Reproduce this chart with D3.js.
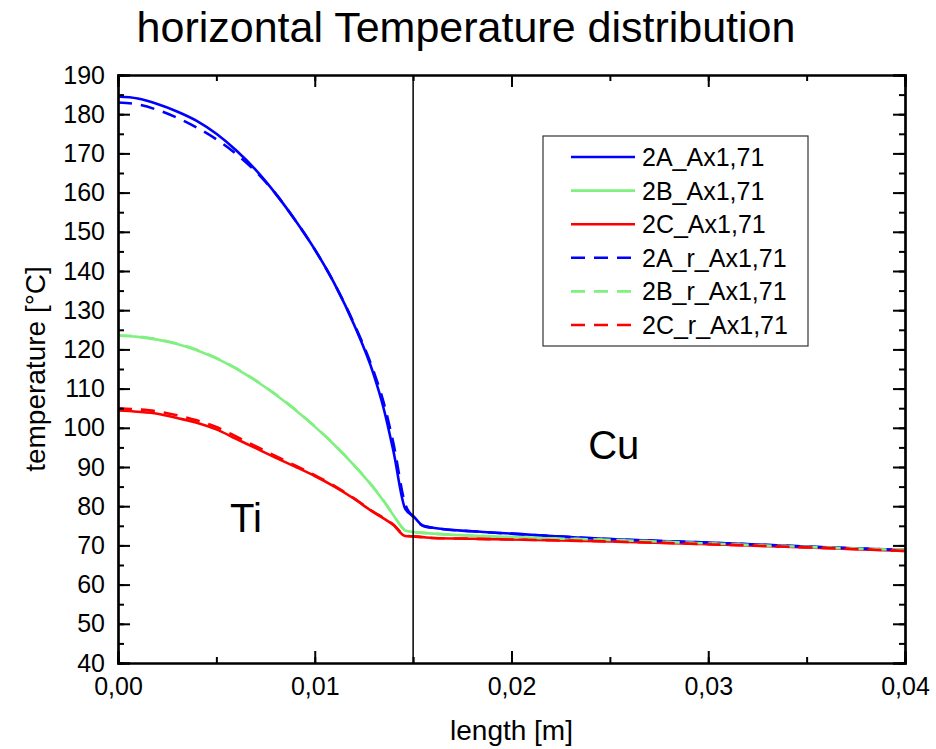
<!DOCTYPE html>
<meta charset="UTF-8">
<style>
    body { margin: 0; background: #fff; }
    text { font-family: "Liberation Sans", Arial, sans-serif; fill: #000; }
</style>
<body>
<div id="chart"></div>
<script src="https://d3js.org/d3.v7.min.js"></script>
<script>

// data: length [m] and temperature [°C] for each run
var lengths = [0, 0.001, 0.002, 0.003, 0.004, 0.005, 0.006, 0.007, 0.008, 0.009, 0.010,
               0.011, 0.012, 0.013, 0.0135, 0.014, 0.0146, 0.015, 0.0155, 0.016,
               0.018, 0.020, 0.025, 0.030, 0.035, 0.040];

var t2A   = [184.5, 184.0, 182.6, 180.7, 178.3, 175.0, 170.8, 165.8, 159.8, 153.0, 145.5,
             136.8, 126.3, 113.5, 105.0, 94.0, 79.3, 77.5, 75.0, 74.5,
             73.6, 73.0, 71.6, 70.7, 69.7, 68.8];
var t2B   = [123.5, 123.2, 122.5, 121.4, 119.8, 117.7, 115.1, 112.0, 108.5, 104.6, 100.3,
             95.6, 90.4, 84.6, 81.3, 77.7, 73.8, 73.4, 73.2, 73.0,
             72.5, 72.1, 71.4, 70.5, 69.6, 68.8];
var t2C   = [104.4, 104.1, 103.6, 102.5, 101.3, 99.6, 97.2, 94.8, 92.4, 90.1, 87.7,
             85.0, 81.9, 78.4, 76.9, 75.2, 72.4, 72.3, 72.1, 71.9,
             71.7, 71.5, 71.0, 70.3, 69.5, 68.6];
var t2A_r = [183.0, 182.5, 181.1, 179.1, 176.6, 173.6, 169.9, 165.4, 159.8, 153.0, 145.5,
             136.8, 126.5, 114.3, 106.5, 96.0, 80.5, 77.3, 75.0, 74.5,
             73.6, 73.0, 71.6, 70.7, 69.7, 68.8];
var t2B_r = [123.6, 123.3, 122.6, 121.5, 119.9, 117.8, 115.2, 112.1, 108.6, 104.7, 100.4,
             95.7, 90.5, 84.7, 81.4, 77.8, 73.9, 73.4, 73.2, 73.0,
             72.5, 72.1, 71.4, 70.5, 69.6, 68.8];
var t2C_r = [105.0, 104.7, 104.2, 103.2, 101.9, 100.2, 97.8, 95.3, 92.8, 90.4, 87.9,
             85.2, 82.0, 78.5, 77.0, 75.3, 72.5, 72.3, 72.1, 71.9,
             71.7, 71.5, 71.0, 70.3, 69.5, 68.6];

var seriesNames = ["2A_Ax1,71", "2B_Ax1,71", "2C_Ax1,71", "2A_r_Ax1,71", "2B_r_Ax1,71", "2C_r_Ax1,71"];
var seriesValues = [t2A, t2B, t2C, t2A_r, t2B_r, t2C_r];
var seriesColors = ["#0000ff", "#80f080", "#ff0000", "#0000ff", "#80f080", "#ff0000"];
var seriesDashed = [false, false, false, true, true, true];

var xTicks = [0, 0.01, 0.02, 0.03, 0.04];
var yTicks = [40, 50, 60, 70, 80, 90, 100, 110, 120, 130, 140, 150, 160, 170, 180, 190];
var interfaceX = 0.015;

// dimensions
var W = 936, H = 749;
var margin = {top: 75, right: 31, bottom: 86, left: 118},
    width = W - margin.left - margin.right,
    height = H - margin.top - margin.bottom;

var x = d3.scaleLinear().domain([0, 0.04]).range([0, width]);
var y = d3.scaleLinear().domain([40, 190]).range([height, 0]);

var svg = d3.select("#chart").append("svg")
        .attr("width", W)
        .attr("height", H);

svg.append("text")
    .attr("x", 466).attr("y", 42)
    .attr("text-anchor", "middle")
    .style("font-size", "43px")
    .text("horizontal Temperature distribution");

var g = svg.append("g")
    .attr("transform", "translate(" + margin.left + "," + margin.top + ")");

var fmt = function(d) { return d.toFixed(2).replace(".", ","); };
var xMinor = d3.range(0, 0.0401, 0.005);
var yMinor = d3.range(40, 190.1, 5);

// curves
var line = d3.line()
    .curve(d3.curveMonotoneX)
    .x(function(d) { return x(d[0]); })
    .y(function(d) { return y(d[1]); });

seriesValues.forEach(function(vals, i) {
    var pts = lengths.map(function(l, j) { return [l, vals[j]]; });
    g.append("path")
        .datum(pts)
        .attr("fill", "none")
        .attr("stroke", seriesColors[i])
        .attr("stroke-width", 2.6)
        .attr("stroke-dasharray", seriesDashed[i] ? "14,9" : null)
        .attr("d", line);
});

// interface line
g.append("line")
    .attr("x1", x(interfaceX)).attr("x2", x(interfaceX))
    .attr("y1", 0).attr("y2", height)
    .attr("stroke", "#000").attr("stroke-width", 1.5);

// axes (ticks inward on all sides)
function styleAxis(sel) {
    sel.select(".domain").attr("stroke-width", 2.2);
    sel.selectAll(".tick line").attr("stroke-width", 2);
    sel.selectAll(".tick text").style("font-size", "25px").style("font-family", "Liberation Sans, Arial, sans-serif");
}

// minor ticks
g.append("g").attr("transform", "translate(0," + height + ")")
    .call(d3.axisBottom(x).tickValues(xMinor).tickSize(-6).tickFormat(""))
    .call(styleAxis);
g.append("g")
    .call(d3.axisTop(x).tickValues(xMinor).tickSize(-6).tickFormat(""))
    .call(styleAxis);
g.append("g")
    .call(d3.axisLeft(y).tickValues(yMinor).tickSize(-6).tickFormat(""))
    .call(styleAxis);
g.append("g").attr("transform", "translate(" + width + ",0)")
    .call(d3.axisRight(y).tickValues(yMinor).tickSize(-6).tickFormat(""))
    .call(styleAxis);

// major ticks
g.append("g").attr("transform", "translate(0," + height + ")")
    .call(d3.axisBottom(x).tickValues(xTicks).tickSize(-12).tickPadding(14).tickFormat(fmt))
    .call(styleAxis);
g.append("g")
    .call(d3.axisTop(x).tickValues(xTicks).tickSize(-12).tickFormat(""))
    .call(styleAxis);
g.append("g")
    .call(d3.axisLeft(y).tickValues(yTicks).tickSize(-12).tickPadding(13).tickFormat(d3.format("d")))
    .call(styleAxis);
g.append("g").attr("transform", "translate(" + width + ",0)")
    .call(d3.axisRight(y).tickValues(yTicks).tickSize(-12).tickFormat(""))
    .call(styleAxis);

// axis titles
svg.append("text")
    .attr("x", margin.left + width / 2).attr("y", 740)
    .attr("text-anchor", "middle")
    .style("font-size", "28px")
    .text("length [m]");

svg.append("text")
    .attr("transform", "translate(45," + (margin.top + height / 2) + ") rotate(-90)")
    .attr("text-anchor", "middle")
    .style("font-size", "28px")
    .text("temperature [°C]");

// region labels
g.append("text")
    .attr("x", x(0.0065)).attr("y", y(73.5))
    .attr("text-anchor", "middle")
    .style("font-size", "40px")
    .text("Ti");
g.append("text")
    .attr("x", x(0.0252)).attr("y", y(92))
    .attr("text-anchor", "middle")
    .style("font-size", "40px")
    .text("Cu");

// legend
var legend = svg.append("g").attr("transform", "translate(543,136)");
legend.append("rect")
    .attr("width", 265).attr("height", 210)
    .attr("fill", "#fff")
    .attr("stroke", "#333").attr("stroke-width", 1.2);

seriesNames.forEach(function(name, i) {
    var row = legend.append("g").attr("transform", "translate(0," + (21 + i * 33.6) + ")");
    row.append("line")
        .attr("x1", 28).attr("x2", 92)
        .attr("stroke", seriesColors[i])
        .attr("stroke-width", 2.6)
        .attr("stroke-dasharray", seriesDashed[i] ? "14,9" : null);
    row.append("text")
        .attr("x", 99).attr("y", 9)
        .style("font-size", "25px")
        .text(name);
});

</script>
</body>
